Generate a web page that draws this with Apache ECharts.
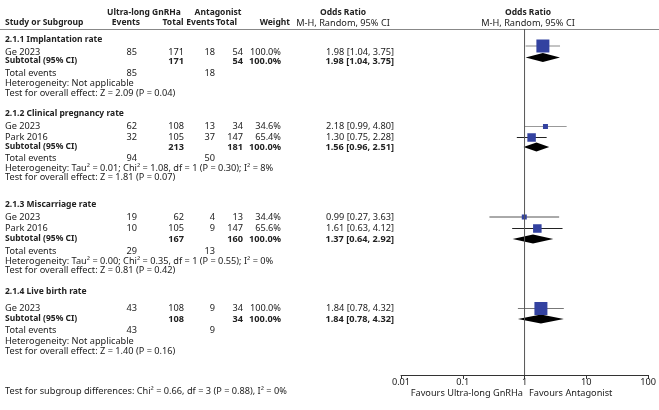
<!DOCTYPE html>
<html>
<head>
<meta charset="utf-8">
<script src="https://cdn.jsdelivr.net/npm/echarts@6/dist/echarts.min.js"></script>
<style>
  html, body { margin: 0; padding: 0; background: #fff; }
  #forest { width: 659px; height: 410px; }
</style>
</head>
<body>
<div id="forest"></div>
<script>
// 数据
const groupNames = ["2.1.1 Implantation rate", "2.1.2 Clinical pregnancy rate", "2.1.3 Miscarriage rate", "2.1.4 Live birth rate"];
const studyGroup = [0, 1, 1, 2, 2, 3];
const studyNames = ["Ge 2023", "Ge 2023", "Park 2016", "Ge 2023", "Park 2016", "Ge 2023"];
const expEvents = [85, 62, 32, 19, 10, 43];
const expTotal = [171, 108, 105, 62, 105, 108];
const ctrlEvents = [18, 13, 37, 4, 9, 9];
const ctrlTotal = [54, 34, 147, 13, 147, 34];
const weights = [100.0, 34.6, 65.4, 34.4, 65.6, 100.0];
const orValue = [1.98, 2.18, 1.30, 0.99, 1.61, 1.84];
const orLower = [1.04, 0.99, 0.75, 0.27, 0.63, 0.78];
const orUpper = [3.75, 4.80, 2.28, 3.63, 4.12, 4.32];

const subExpEvents = [85, 94, 29, 43];
const subCtrlEvents = [18, 50, 13, 9];
const subExpTotal = [171, 213, 167, 108];
const subCtrlTotal = [54, 181, 160, 34];
const subOR = [1.98, 1.56, 1.37, 1.84];
const subLower = [1.04, 0.96, 0.64, 0.78];
const subUpper = [3.75, 2.51, 2.92, 4.32];
const heterogeneity = [
  "Not applicable",
  "Tau² = 0.01; Chi² = 1.08, df = 1 (P = 0.30); I² = 8%",
  "Tau² = 0.00; Chi² = 0.35, df = 1 (P = 0.55); I² = 0%",
  "Not applicable"
];
const overallEffect = ["Z = 2.09 (P = 0.04)", "Z = 1.81 (P = 0.07)", "Z = 0.81 (P = 0.42)", "Z = 1.40 (P = 0.16)"];
const subgroupTest = "Test for subgroup differences: Chi² = 0.66, df = 3 (P = 0.88), I² = 0%";
const axisTicks = [0.01, 0.1, 1, 10, 100];
const favourLabels = ["Favours Ultra-long GnRHa", "Favours Antagonist"];

// 行位置 (像素)
const groupRowY = [40, 114, 205, 291.5];
const studyRowY = [52.5, 126.5, 137.5, 217, 228.5, 308.5];
const studyMarkY = [46, 126.5, 137.5, 217, 228.5, 308.5];
const subRowY = [61, 147, 239, 319];
const subMarkY = [57.5, 147, 239, 319];
const totalRowY = [73.5, 158, 251, 330.5];
const hetRowY = [83.5, 168, 261, 341];
const testRowY = [93.5, 177.5, 270.5, 351];
const whiskerColor = ["#888", "#999", "#222", "#555", "#222", "#777"];

const col = { label: 5, expEv: 137, expTot: 184, ctrlEv: 215, ctrlTot: 243, weight: 281, or: 394 };
const FONT = '"Noto Sans", sans-serif';
const FS = 9.2;      // 常规
const FS_B = 8.5;    // 粗体文字
const fmt = (v) => v.toFixed(2);

// bold: true 粗体文字, "num" 粗体数字
function txt(x, y, text, align, bold) {
  let font = FS + "px " + FONT;
  if (bold === "num") font = "bold " + FS + "px " + FONT;
  else if (bold) font = "bold " + FS_B + "px " + FONT;
  return {
    type: "text", x: x, y: y, silent: true,
    style: { text: text, fill: "#222", align: align || "left", verticalAlign: "middle", font: font }
  };
}

const graphics = [];
// 表头
graphics.push(txt(144, 12.5, "Ultra-long GnRHa", "center", true));
graphics.push(txt(218, 12.5, "Antagonist", "center", true));
graphics.push(txt(343, 12.5, "Odds Ratio", "center", true));
graphics.push(txt(528, 12.5, "Odds Ratio", "center", true));
graphics.push(txt(col.label, 23, "Study or Subgroup", "left", true));
graphics.push(txt(140, 23, "Events", "right", true));
graphics.push(txt(183.5, 23, "Total", "right", true));
graphics.push(txt(214.5, 23, "Events", "right", true));
graphics.push(txt(237, 23, "Total", "right", true));
graphics.push(txt(290, 23, "Weight", "right", true));
graphics.push(txt(343, 23, "M-H, Random, 95% CI", "center", false));
graphics.push(txt(528, 23, "M-H, Random, 95% CI", "center", false));
graphics.push({ type: "line", silent: true, shape: { x1: 0, y1: 29.5, x2: 659, y2: 29.5 }, style: { stroke: "#888", lineWidth: 1 } });

studyNames.forEach((name, i) => {
  const y = studyRowY[i];
  graphics.push(txt(col.label, y, name));
  graphics.push(txt(col.expEv, y, String(expEvents[i]), "right"));
  graphics.push(txt(col.expTot, y, String(expTotal[i]), "right"));
  graphics.push(txt(col.ctrlEv, y, String(ctrlEvents[i]), "right"));
  graphics.push(txt(col.ctrlTot, y, String(ctrlTotal[i]), "right"));
  graphics.push(txt(col.weight, y, weights[i].toFixed(1) + "%", "right"));
  graphics.push(txt(col.or, y, fmt(orValue[i]) + " [" + fmt(orLower[i]) + ", " + fmt(orUpper[i]) + "]", "right"));
});

groupNames.forEach((name, g) => {
  graphics.push(txt(col.label, groupRowY[g], name, "left", true));
  const y = subRowY[g];
  graphics.push(txt(col.label, y, "Subtotal (95% CI)", "left", true));
  graphics.push(txt(col.expTot, y, String(subExpTotal[g]), "right", "num"));
  graphics.push(txt(col.ctrlTot, y, String(subCtrlTotal[g]), "right", "num"));
  graphics.push(txt(col.weight, y, "100.0%", "right", "num"));
  graphics.push(txt(col.or, y, fmt(subOR[g]) + " [" + fmt(subLower[g]) + ", " + fmt(subUpper[g]) + "]", "right", "num"));
  graphics.push(txt(col.label, totalRowY[g], "Total events"));
  graphics.push(txt(col.expEv, totalRowY[g], String(subExpEvents[g]), "right"));
  graphics.push(txt(col.ctrlEv, totalRowY[g], String(subCtrlEvents[g]), "right"));
  graphics.push(txt(col.label, hetRowY[g], "Heterogeneity: " + heterogeneity[g]));
  graphics.push(txt(col.label, testRowY[g], "Test for overall effect: " + overallEffect[g]));
});

graphics.push(txt(col.label, 391, subgroupTest));
graphics.push(txt(523, 393.5, favourLabels[0], "right"));
graphics.push(txt(529, 393.5, favourLabels[1], "left"));

const chart = echarts.init(document.getElementById("forest"));
chart.setOption({
  animation: false,
  backgroundColor: "#fff",
  grid: { left: 401, right: 5, top: 29, bottom: 35 },
  xAxis: {
    type: "log", logBase: 10, min: 0.01, max: 100, interval: 1,
    axisLine: { show: true, lineStyle: { color: "#333", width: 1 } },
    axisTick: { show: true, length: 4, lineStyle: { color: "#333" } },
    axisLabel: {
      fontSize: FS, fontFamily: FONT, color: "#222", margin: 3,
      formatter: (v) => {
        const t = axisTicks.find(a => Math.abs(Math.log10(a) - Math.log10(v)) < 1e-6);
        return t === undefined ? "" : String(t);
      }
    },
    splitLine: { show: false }
  },
  yAxis: { type: "value", min: 29, max: 375, inverse: true, show: false },
  graphic: graphics,
  series: [
    {
      type: "line", data: [[1, 29], [1, 375]], symbol: "none", silent: true,
      lineStyle: { color: "#555", width: 1 }
    },
    {
      type: "custom", silent: true,
      data: orValue.map((v, i) => [orLower[i], orUpper[i], studyMarkY[i], i]),
      renderItem: (params, api) => {
        const a = api.coord([api.value(0), api.value(2)]);
        const b = api.coord([api.value(1), api.value(2)]);
        return {
          type: "line",
          shape: { x1: a[0], y1: a[1], x2: b[0], y2: b[1] },
          style: { stroke: whiskerColor[api.value(3)], lineWidth: 1 }
        };
      }
    },
    {
      type: "scatter", silent: true, symbol: "rect",
      data: orValue.map((v, i) => [v, studyMarkY[i], weights[i]]),
      symbolSize: (d) => Math.max(5, d[2] * 0.13),
      itemStyle: { color: "#3342a0", opacity: 1 }
    },
    {
      type: "custom", silent: true,
      data: subOR.map((v, g) => [subLower[g], v, subUpper[g], subMarkY[g]]),
      renderItem: (params, api) => {
        const y = api.value(3);
        const l = api.coord([api.value(0), y]);
        const c = api.coord([api.value(1), y]);
        const r = api.coord([api.value(2), y]);
        return {
          type: "polygon",
          shape: { points: [[l[0], c[1]], [c[0], c[1] - 4.5], [r[0], c[1]], [c[0], c[1] + 4.5]] },
          style: { fill: "#000" }
        };
      }
    }
  ]
});
</script>
</body>
</html>
